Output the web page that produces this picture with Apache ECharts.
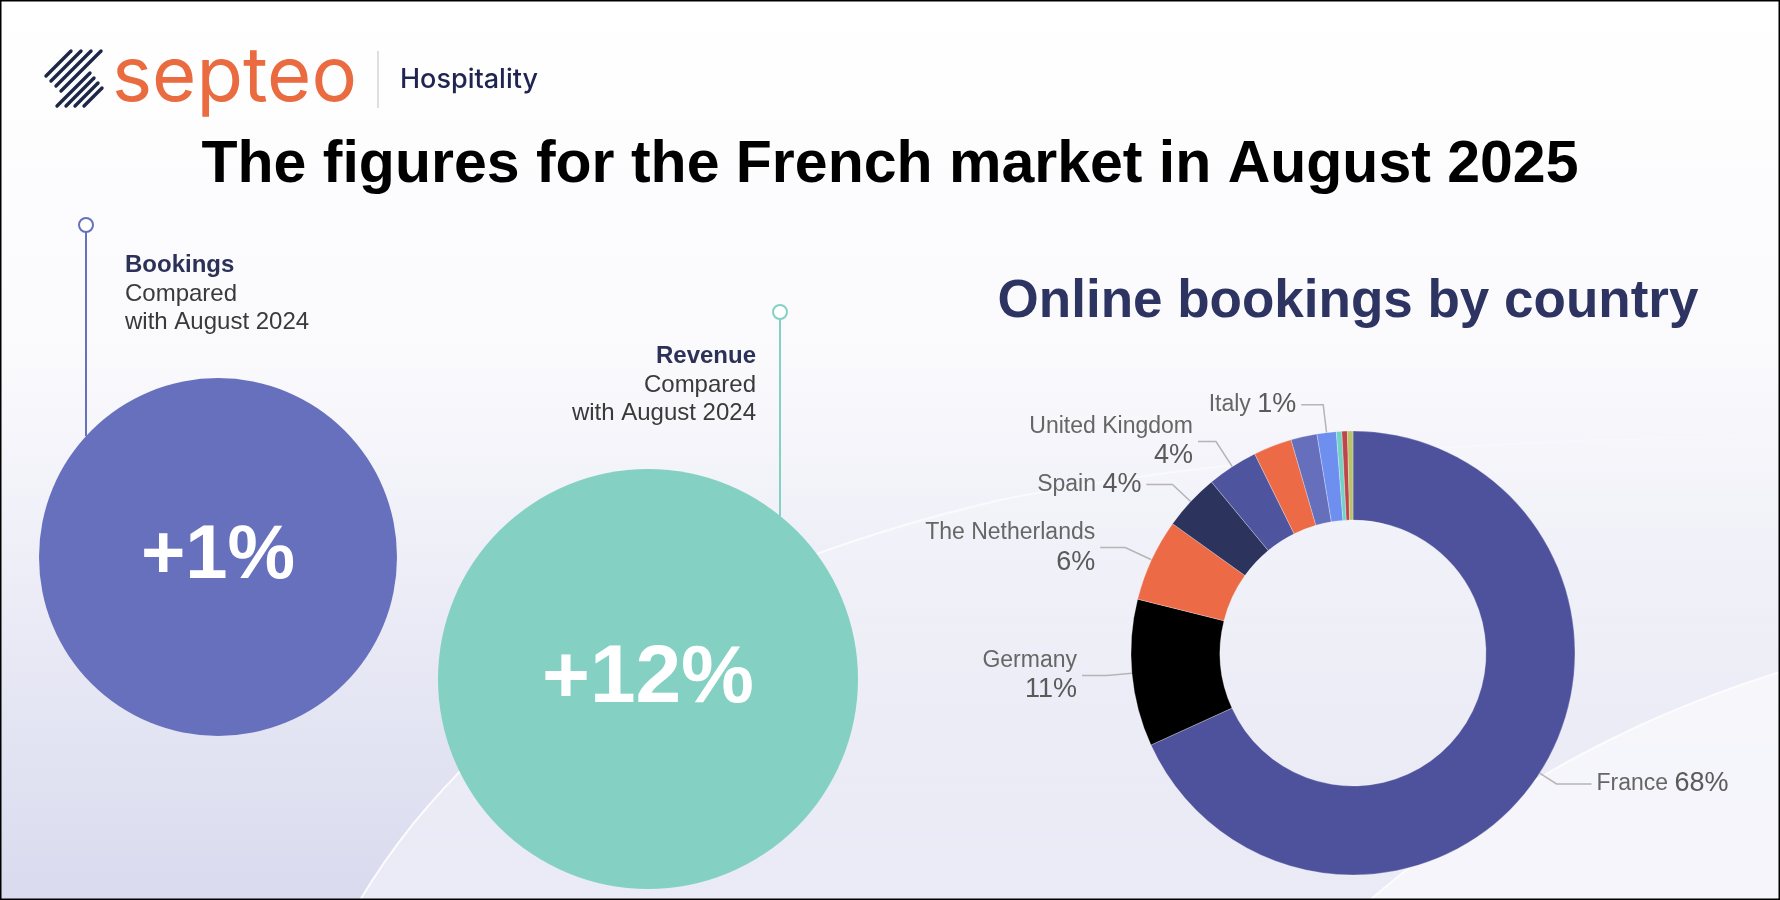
<!DOCTYPE html>
<html>
<head>
<meta charset="utf-8">
<script src="https://cdn.jsdelivr.net/npm/echarts@6/dist/echarts.min.js"></script>
<style>
html,body{margin:0;padding:0;background:#fff;}
#c{width:1780px;height:900px;}
</style>
</head>
<body>
<div id="c"></div>
<script>
// ---------- data ----------
const pageTitle = 'The figures for the French market in August 2025';
const donutTitle = 'Online bookings by country';
const kpiNames = ['Bookings', 'Revenue'];
const kpiChanges = [1, 12];            // % change
const kpiCompare = ['Compared', 'with August 2024'];
const countries = ['France', 'Germany', 'The Netherlands', 'Spain', 'United Kingdom',
                   'Other A', 'Other B', 'Italy', 'Other C', 'Other D', 'Other E'];
const shares = [68.2, 10.7, 6.0, 4.1, 3.7, 2.8, 1.9, 1.4, 0.4, 0.4, 0.4];
const labelledCountries = ['France', 'Germany', 'The Netherlands', 'Spain', 'United Kingdom', 'Italy'];
const twoLineLabels = ['Germany', 'The Netherlands', 'United Kingdom'];

// ---------- style ----------
const FF = '"Liberation Sans", Arial, Helvetica, sans-serif';
const sliceColors = ['#4e529c', '#000000', '#ec6a45', '#2c335d', '#4f549e',
                     '#ec6a45', '#656fbc', '#6e8ff0', '#72d2c6', '#c0454a', '#b9c46a'];
const lineLens = {
  'France': [20, 35], 'Germany': [25, 25], 'The Netherlands': [29, 25],
  'Spain': [25, 26], 'United Kingdom': [30, 18], 'Italy': [28, 22]
};
const kpiColors = ['#6670bd', '#84d1c3'];
const kpiCenters = [[218, 557], [648, 679]];
const kpiRadii = [179, 210];
const kpiFont = [76, 82];

function bez(p0, p1, p2, p3, n) {
  const pts = [];
  for (let k = 0; k <= n; k++) {
    const t = k / n, u = 1 - t;
    pts.push([
      u*u*u*p0[0] + 3*u*u*t*p1[0] + 3*u*t*t*p2[0] + t*t*t*p3[0],
      u*u*u*p0[1] + 3*u*u*t*p1[1] + 3*u*t*t*p2[1] + t*t*t*p3[1]
    ]);
  }
  return pts;
}

const chart = echarts.init(document.getElementById('c'), null, { renderer: 'canvas' });

const graphics = [];
// background
graphics.push({
  type: 'rect', z: -20, silent: true,
  shape: { x: 0, y: 0, width: 1780, height: 900 },
  style: { fill: { type: 'linear', x: 0, y: 0, x2: 0, y2: 1, colorStops: [
    { offset: 0, color: '#ffffff' },
    { offset: 0.4, color: '#fafafd' },
    { offset: 1, color: '#d9daee' }
  ] } }
});
const sw1 = bez([360, 900], [480, 700], [700, 570], [1000, 500], 30)
  .concat(bez([1000, 500], [1250, 450], [1550, 440], [1780, 435], 30).slice(1));
graphics.push({
  type: 'polygon', z: -19, silent: true,
  shape: { points: sw1.concat([[1780, 900]]) },
  style: { fill: { type: 'linear', x: 0, y: 0, x2: 0, y2: 1, colorStops: [
    { offset: 0, color: 'rgba(255,255,255,0.05)' },
    { offset: 1, color: 'rgba(255,255,255,0.45)' }
  ] } }
});
graphics.push({
  type: 'polyline', z: -19, silent: true,
  shape: { points: sw1 },
  style: { stroke: { type: 'linear', x: 0, y: 0, x2: 1, y2: 0, colorStops: [
    { offset: 0, color: 'rgba(255,255,255,0.9)' },
    { offset: 0.5, color: 'rgba(255,255,255,0.6)' },
    { offset: 1, color: 'rgba(255,255,255,0.1)' }
  ] }, lineWidth: 2, fill: null }
});
const sw2 = bez([1370, 900], [1480, 805], [1610, 725], [1780, 672], 30);
graphics.push({
  type: 'polygon', z: -18, silent: true,
  shape: { points: sw2.concat([[1780, 900]]) },
  style: { fill: 'rgba(255,255,255,0.5)' }
});
graphics.push({
  type: 'polyline', z: -18, silent: true,
  shape: { points: sw2 },
  style: { stroke: 'rgba(255,255,255,0.8)', lineWidth: 2, fill: null }
});

// logo stripes
for (let i = 0; i < 4; i++) {
  const sx = 46 + 5 * i, sy = 76 + 5 * i, L = sy - 51;
  graphics.push({ type: 'line', silent: true,
    shape: { x1: sx, y1: sy, x2: sx + L, y2: sy - L },
    style: { stroke: '#1c2647', lineWidth: 3.4, lineCap: 'round' } });
}
for (let i = 0; i < 4; i++) {
  const sx = 57 + 9 * i, sy = 106, L = 33 - 5 * i;
  graphics.push({ type: 'line', silent: true,
    shape: { x1: sx, y1: sy, x2: sx + L, y2: sy - L },
    style: { stroke: '#1c2647', lineWidth: 3.4, lineCap: 'round' } });
}
graphics.push({ type: 'text', silent: true,
  style: { text: 'septeo', x: 112, y: 78, font: '400 76px Inter, "Noto Sans", sans-serif',
           fill: '#ea6b3f', align: 'left', verticalAlign: 'middle' } });
graphics.push({ type: 'line', silent: true,
  shape: { x1: 378, y1: 51, x2: 378, y2: 108 },
  style: { stroke: '#d4d4d8', lineWidth: 1.5 } });
graphics.push({ type: 'text', silent: true,
  style: { text: 'Hospitality', x: 400, y: 80, font: '500 27px Inter, "Noto Sans", sans-serif',
           fill: '#1f2550', align: 'left', verticalAlign: 'middle' } });

// main title
graphics.push({ type: 'text', silent: true,
  style: { text: pageTitle, x: 890, y: 166, font: 'bold 59px ' + FF,
           fill: '#000000', align: 'center', verticalAlign: 'middle' } });

// KPI connectors
const conn = [
  { x: 86, top: 225, bottom: 436, color: kpiColors[0] },
  { x: 780, top: 312, bottom: 516, color: kpiColors[1] }
];
conn.forEach(c => {
  graphics.push({ type: 'line', silent: true,
    shape: { x1: c.x, y1: c.top + 7, x2: c.x, y2: c.bottom },
    style: { stroke: c.color, lineWidth: 2 } });
  graphics.push({ type: 'circle', silent: true,
    shape: { cx: c.x, cy: c.top, r: 7 },
    style: { fill: '#ffffff', stroke: c.color, lineWidth: 2 } });
});

// KPI text blocks
const kpiText = [
  { x: 125, ys: [265, 294, 322], align: 'left' },
  { x: 756, ys: [356, 385, 413], align: 'right' }
];
kpiText.forEach((k, i) => {
  graphics.push({ type: 'text', silent: true,
    style: { text: kpiNames[i], x: k.x, y: k.ys[0], font: 'bold 24px ' + FF,
             fill: '#2c3157', align: k.align, verticalAlign: 'middle' } });
  kpiCompare.forEach((t, j) => {
    graphics.push({ type: 'text', silent: true,
      style: { text: t, x: k.x, y: k.ys[j + 1], font: '24px ' + FF,
               fill: '#3a3a3a', align: k.align, verticalAlign: 'middle' } });
  });
});

// donut title
graphics.push({ type: 'text', silent: true,
  style: { text: donutTitle, x: 1348, y: 302, font: 'bold 53px ' + FF,
           fill: '#2e3461', align: 'center', verticalAlign: 'middle' } });

// border
graphics.push({ type: 'rect', z: 100, silent: true,
  shape: { x: 0.75, y: 0.75, width: 1778.5, height: 898.5 },
  style: { fill: null, stroke: '#000', lineWidth: 1.5 } });

const kpiSeries = kpiNames.map((n, i) => ({
  type: 'pie',
  center: kpiCenters[i],
  radius: [0, kpiRadii[i]],
  silent: true,
  startAngle: 90,
  label: {
    show: true, position: 'center',
    formatter: () => '+' + kpiChanges[i] + '%',
    color: '#ffffff', fontSize: kpiFont[i], fontWeight: 'bold', fontFamily: FF
  },
  labelLine: { show: false },
  emphasis: { disabled: true },
  data: [{ name: n, value: kpiChanges[i], itemStyle: { color: kpiColors[i] } }]
}));

const donutSeries = {
  type: 'pie',
  center: [1353, 653],
  radius: [133, 222],
  startAngle: 90,
  clockwise: true,
  avoidLabelOverlap: false,
  silent: true,
  emphasis: { disabled: true },
  itemStyle: { borderColor: 'rgba(255,255,255,0.35)', borderWidth: 0.8 },
  label: {
    show: true,
    position: 'outside',
    distanceToLabelLine: 5,
    formatter: p => {
      const pct = Math.round(p.percent) + '%';
      return twoLineLabels.includes(p.name)
        ? '{n|' + p.name + '}\n{p|' + pct + '}'
        : '{n|' + p.name + ' }{p|' + pct + '}';
    },
    rich: {
      n: { fontSize: 23, color: '#666666', fontFamily: FF, lineHeight: 29 },
      p: { fontSize: 27, color: '#5a5a5a', fontFamily: FF, lineHeight: 29 }
    }
  },
  labelLine: { show: true, smooth: false, lineStyle: { color: '#b5b5b5', width: 1.5 } },
  data: countries.map((c, i) => {
    const lab = labelledCountries.includes(c);
    const ll = lineLens[c] || [20, 20];
    return {
      name: c,
      value: shares[i],
      itemStyle: { color: sliceColors[i] },
      label: { show: lab },
      labelLine: { show: lab, length: ll[0], length2: ll[1] }
    };
  })
};

chart.setOption({
  animation: false,
  backgroundColor: '#ffffff',
  graphic: { elements: graphics },
  series: [...kpiSeries, donutSeries]
});
</script>
</body>
</html>
